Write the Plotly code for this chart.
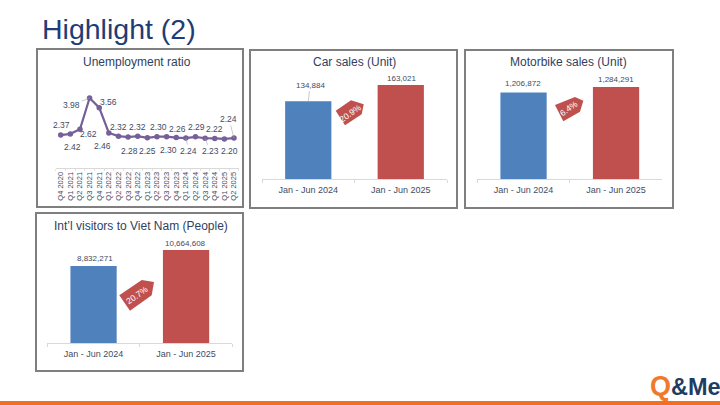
import plotly.graph_objects as go

W, H = 720, 405
FONT = "Liberation Sans"
NAVY = "#2f3f5f"
LABEL = "#3f4b63"
BLUE = "#4f81bd"
RED = "#c0504d"
PURPLE = "#75609a"

quarters = ["Q4 2020", "Q1 2021", "Q2 2021", "Q3 2021", "Q4 2021", "Q1 2022", "Q2 2022",
            "Q3 2022", "Q4 2022", "Q1 2023", "Q2 2023", "Q3 2023", "Q4 2023", "Q1 2024",
            "Q2 2024", "Q3 2024", "Q4 2024", "Q1 2025", "Q2 2025"]
unemployment = [2.37, 2.42, 2.62, 3.98, 3.56, 2.46, 2.32, 2.28, 2.32, 2.25,
                2.30, 2.30, 2.26, 2.24, 2.29, 2.23, 2.22, 2.20, 2.24]
label_dx = [1, 2, 9, -18, 9, -6, 0.5, 1, 0, 0.5, 2, 1.5, 1, 3, 1.5, 5, 0, 5.5, -5]
label_dy = [-10, 13, 5, 7, -6, 13.5, -9, 14, -9, 13.5, -9.5, 13.5, -9, 13, -10, 13, -9, 12, -19]
leader = [3, 13, 15, 18]

periods = ["Jan - Jun 2024", "Jan - Jun 2025"]
car_sales = [134884, 163021]
motorbike_sales = [1206872, 1284291]
visitors = [8832271, 10664608]


def px(x):
    return x / W


def py(y):
    return 1 - y / H


fig = go.Figure()
shapes, annotations = [], []

# panel frames
for x0, y0, x1, y1 in [(37, 49, 243, 207), (250, 50, 457, 208), (465, 50, 673, 208), (36, 213, 243, 371)]:
    shapes.append(dict(type="rect", xref="paper", yref="paper", x0=px(x0), x1=px(x1), y0=py(y0), y1=py(y1),
                       line=dict(color="#7f7f7f", width=2), fillcolor="white", layer="below"))

# bottom band
shapes.append(dict(type="rect", xref="paper", yref="paper", x0=0, x1=1, y0=0, y1=py(401),
                   line=dict(width=0), fillcolor="#f26f21"))


def text(x, y, s, size, color=NAVY, angle=0, bold=False, xanchor="center"):
    annotations.append(dict(xref="paper", yref="paper", x=px(x), y=py(y), text=f"<b>{s}</b>" if bold else s,
                            showarrow=False, xanchor=xanchor, yanchor="middle", textangle=angle,
                            font=dict(family=FONT, size=size, color=color)))


text(40, 29, "Highlight (2)", 28.5, color="#1f3c74", xanchor="left")
text(136.7, 62, "Unemployment ratio", 12)
text(354, 62, "Car sales (Unit)", 12)
text(568.3, 62, "Motorbike sales (Unit)", 12)
text(141, 226.3, "Int’l visitors to Viet Nam (People)", 12)

# line chart
fig.add_trace(go.Scatter(x=quarters, y=unemployment, mode="lines+markers", xaxis="x", yaxis="y",
                         line=dict(color=PURPLE, width=2.25), marker=dict(color=PURPLE, size=5.5),
                         showlegend=False, hoverinfo="skip"))
for i, v in enumerate(unemployment):
    annotations.append(dict(xref="x", yref="y", x=quarters[i], y=v, text=f"{v:.2f}", showarrow=True,
                            arrowhead=0, arrowwidth=0.6,
                            arrowcolor="#a6a6a6" if i in leader else "rgba(0,0,0,0)",
                            axref="pixel", ayref="pixel", ax=label_dx[i], ay=label_dy[i],
                            font=dict(family=FONT, size=8.5, color=LABEL)))

layout = dict(
    xaxis=dict(domain=[px(55.9), px(238.8)], anchor="y", type="category", range=[-0.5, 18.5],
               tickangle=-90, tickfont=dict(family=FONT, size=7.5, color=LABEL), tickson="boundaries",
               ticks="outside", ticklen=2, tickcolor="#e3e3e3", tickwidth=0.5,
               showgrid=False, showline=True, linecolor="#d9d9d9", linewidth=0.75, zeroline=False),
    yaxis=dict(domain=[py(168), py(90)], anchor="x", range=[0.935, 4.33], visible=False, showgrid=False),
)

# bar charts
bars = [
    ("2", car_sales, (262, 447), (85, 179), [2, 0.5], [-16, -7], True),
    ("3", motorbike_sales, (477.3, 662.3), (87, 179.3), [-1, 0], [-9, -7], False),
    ("4", visitors, (47.3, 232.3), (250, 343), [1, -1], [-7, -6.5], False),
]
for n, vals, xd, yd, dxs, dys, lead in bars:
    fig.add_trace(go.Bar(x=periods, y=vals, xaxis=f"x{n}", yaxis=f"y{n}", width=0.5,
                         marker=dict(color=[BLUE, RED], line=dict(width=0)),
                         showlegend=False, hoverinfo="skip"))
    layout[f"xaxis{n}"] = dict(domain=[px(xd[0]), px(xd[1])], anchor=f"y{n}", type="category",
                               range=[-0.5, 1.5], tickson="boundaries", ticks="outside", ticklen=3,
                               tickcolor="#d9d9d9", tickwidth=0.75, showgrid=False, showline=True,
                               linecolor="#d9d9d9", linewidth=0.75, zeroline=False, ticklabelstandoff=2,
                               tickfont=dict(family=FONT, size=9, color=LABEL))
    layout[f"yaxis{n}"] = dict(domain=[py(yd[1]), py(yd[0])], anchor=f"x{n}", range=[0, max(vals)],
                               visible=False, showgrid=False)
    for i, v in enumerate(vals):
        annotations.append(dict(xref=f"x{n}", yref=f"y{n}", x=periods[i], y=v, text=f"{v:,}", showarrow=True,
                                arrowhead=0, arrowwidth=0.6,
                                arrowcolor="#a6a6a6" if (lead and i == 0) else "rgba(0,0,0,0)",
                                axref="pixel", ayref="pixel", ax=dxs[i], ay=dys[i],
                                font=dict(family=FONT, size=8, color=LABEL)))

# growth tags
tags = [
    ("20.9%", [(335.7, 110.7), (351, 100.3), (363.7, 104.3), (361.7, 114.3), (345, 125.3)], (350.7, 113)),
    ("6.4%", [(555, 105), (575, 97), (583.3, 100.7), (580, 111.7), (563.3, 121.3)], (569.3, 108.3)),
    ("20.7%", [(119.3, 295.3), (141.7, 280), (154, 282), (151.7, 295.3), (130, 310.7)], (137.3, 295.3)),
]
for label, pts, (tx, ty) in tags:
    path = "M " + " L ".join(f"{px(a):.5f},{py(b):.5f}" for a, b in pts) + " Z"
    shapes.append(dict(type="path", xref="paper", yref="paper", path=path, fillcolor=RED, line=dict(width=0)))
    text(tx, ty, label, 8.5, color="white", angle=-35)

# logo
text(669, 387, "&amp;Me", 23.5, color="#1f3c62", bold=True, xanchor="left")
text(648, 386, "Q", 27, color="#f0792b", bold=True, xanchor="left")

fig.update_layout(width=W, height=H, autosize=False, margin=dict(l=0, r=0, t=0, b=0),
                  paper_bgcolor="white", plot_bgcolor="rgba(0,0,0,0)", shapes=shapes,
                  annotations=annotations, bargap=0.5, **layout)
fig.write_html("out.html", config={"displayModeBar": False},
               post_script="document.body.style.margin='0';")
